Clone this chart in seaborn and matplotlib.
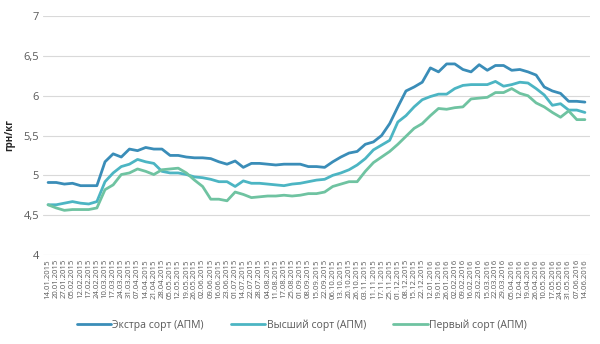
import matplotlib
matplotlib.use("Agg")
import matplotlib.pyplot as plt
import seaborn as sns
import pandas as pd
from matplotlib.lines import Line2D

dates = ["14.01.2015", "20.01.2015", "27.01.2015", "05.02.2015", "12.02.2015", "17.02.2015",
         "24.02.2015", "10.03.2015", "17.03.2015", "24.03.2015", "31.03.2015", "07.04.2015",
         "14.04.2015", "21.04.2015", "28.04.2015", "05.05.2015", "12.05.2015", "19.05.2015",
         "26.05.2015", "02.06.2015", "09.06.2015", "16.06.2015", "23.06.2015", "01.07.2015",
         "14.07.2015", "22.07.2015", "28.07.2015", "04.08.2015", "11.08.2015", "17.08.2015",
         "25.08.2015", "01.09.2015", "08.09.2015", "15.09.2015", "22.09.2015", "06.10.2015",
         "13.10.2015", "20.10.2015", "26.10.2015", "03.11.2015", "11.11.2015", "17.11.2015",
         "25.11.2015", "01.12.2015", "08.12.2015", "15.12.2015", "22.12.2015", "12.01.2016",
         "19.01.2016", "26.01.2016", "02.02.2016", "09.02.2016", "16.02.2016", "23.02.2016",
         "15.03.2016", "22.03.2016", "29.03.2016", "05.04.2016", "12.04.2016", "19.04.2016",
         "26.04.2016", "10.05.2016", "17.05.2016", "24.05.2016", "31.05.2016", "07.06.2016",
         "14.06.2016"]

extra = [4.91, 4.91, 4.89, 4.90, 4.87, 4.87, 4.87, 5.17, 5.27, 5.23, 5.33, 5.31,
         5.35, 5.33, 5.33, 5.25, 5.25, 5.23, 5.22, 5.22, 5.21, 5.17, 5.14, 5.18,
         5.10, 5.15, 5.15, 5.14, 5.13, 5.14, 5.14, 5.14, 5.11, 5.11, 5.10, 5.17,
         5.23, 5.28, 5.30, 5.39, 5.42, 5.50, 5.65, 5.86, 6.06, 6.11, 6.17, 6.35,
         6.30, 6.40, 6.40, 6.33, 6.30, 6.39, 6.32, 6.38, 6.38, 6.32, 6.33, 6.30,
         6.26, 6.11, 6.06, 6.03, 5.93, 5.93, 5.92]

vysshiy = [4.63, 4.63, 4.65, 4.67, 4.65, 4.64, 4.67, 4.92, 5.03, 5.11, 5.14, 5.20,
           5.17, 5.15, 5.05, 5.03, 5.03, 5.01, 4.98, 4.97, 4.95, 4.92, 4.92, 4.86,
           4.93, 4.90, 4.90, 4.89, 4.88, 4.87, 4.89, 4.90, 4.92, 4.94, 4.95, 5.00,
           5.03, 5.07, 5.13, 5.21, 5.32, 5.38, 5.44, 5.67, 5.75, 5.86, 5.95, 5.99,
           6.02, 6.02, 6.09, 6.13, 6.14, 6.14, 6.14, 6.18, 6.12, 6.14, 6.17, 6.16,
           6.09, 6.01, 5.88, 5.90, 5.82, 5.82, 5.79]

perviy = [4.63, 4.59, 4.56, 4.57, 4.57, 4.57, 4.59, 4.82, 4.88, 5.01, 5.03, 5.08,
          5.05, 5.01, 5.07, 5.08, 5.09, 5.03, 4.94, 4.86, 4.70, 4.70, 4.68, 4.79,
          4.76, 4.72, 4.73, 4.74, 4.74, 4.75, 4.74, 4.75, 4.77, 4.77, 4.79, 4.86,
          4.89, 4.92, 4.92, 5.05, 5.16, 5.23, 5.30, 5.39, 5.49, 5.59, 5.65, 5.75,
          5.84, 5.83, 5.85, 5.86, 5.96, 5.97, 5.98, 6.04, 6.04, 6.09, 6.03, 6.00,
          5.91, 5.86, 5.79, 5.73, 5.81, 5.70, 5.70]

series_names = ["Экстра сорт (АПМ)", "Высший сорт (АПМ)", "Первый сорт (АПМ)"]
colors = ["#3a8db8", "#4cb5c3", "#6fc3a1"]

rows = []
for name, vals in zip(series_names, [extra, vysshiy, perviy]):
    for i, v in enumerate(vals):
        rows.append({"idx": i, "value": v, "series": name})
df = pd.DataFrame(rows)

sns.set_style("white")
plt.rcParams["font.family"] = ["Open Sans", "DejaVu Sans"]

fig = plt.figure(figsize=(6.0, 3.44), dpi=100)
ax = fig.add_axes([0.072, 0.259, 0.911, 0.694])

sns.lineplot(data=df, x="idx", y="value", hue="series", hue_order=series_names,
             palette=colors, linewidth=2.0, ax=ax, legend=False)

ax.set_xlim(-0.6, len(dates) - 0.4)
ax.set_ylim(4, 7)
ax.set_yticks([4, 4.5, 5, 5.5, 6, 6.5, 7])
ax.set_yticklabels(["4", "4,5", "5", "5,5", "6", "6,5", "7"], fontsize=8, color="#595959")
ax.set_xticks(range(len(dates)))
ax.set_xticklabels(dates, rotation=90, fontsize=5.6, color="#595959")
ax.tick_params(axis="both", length=0, pad=3)
ax.grid(axis="y", color="#d9d9d9", linewidth=0.8)
ax.set_axisbelow(True)
for s in ax.spines.values():
    s.set_visible(False)
ax.set_xlabel("")
ax.set_ylabel("грн/кг", fontsize=7, fontweight="bold", color="#262626", labelpad=6)

handles = [Line2D([0], [0], color=c, linewidth=2.0) for c in colors]
fig.legend(handles, series_names, loc="center", bbox_to_anchor=(0.503, 1 - 325 / 344),
           ncol=3, frameon=False, fontsize=7.5, handlelength=3.3, handletextpad=0.15,
           columnspacing=2.6, labelcolor="#595959")

fig.savefig("out.png", dpi=100)
